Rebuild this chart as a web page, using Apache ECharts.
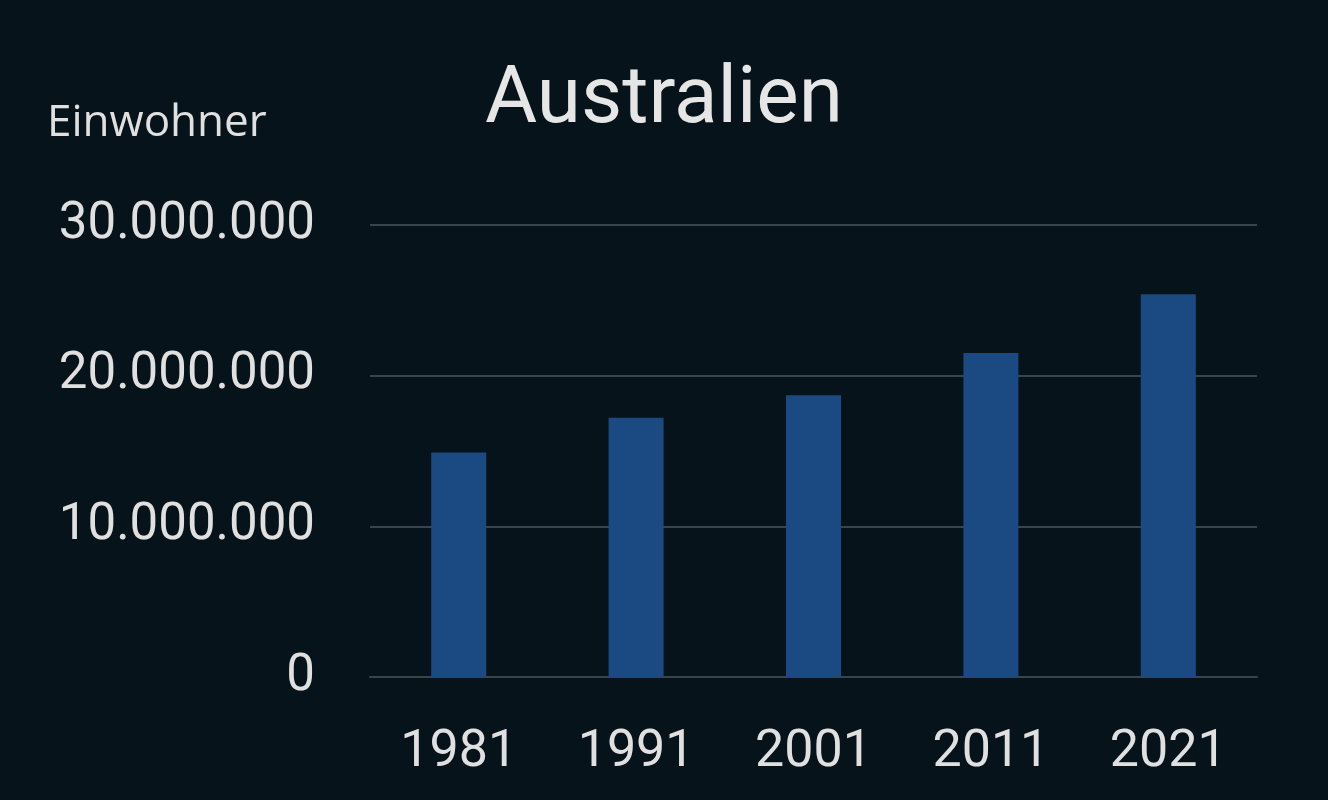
<!DOCTYPE html>
<html>
<head>
<meta charset="utf-8">
<script src="https://cdn.jsdelivr.net/npm/echarts@6/dist/echarts.min.js"></script>
<style>
  html, body { margin: 0; padding: 0; background: #06131a; }
  #main { width: 1328px; height: 800px; }
</style>
</head>
<body>
<div id="main"></div>
<script>
  // Bevölkerung Australien
  var jahre = ['1981', '1991', '2001', '2011', '2021'];
  var einwohner = [14900000, 17200000, 18700000, 21500000, 25400000];
  var yTicks = [0, 10000000, 20000000, 30000000];

  function fmt(v) {
    return String(v).replace(/\B(?=(\d{3})+(?!\d))/g, '.');
  }

  var myChart = echarts.init(document.getElementById('main'));

  var option = {
    backgroundColor: '#06131a',
    title: [{
      text: 'Australien',
      left: 'center',
      top: 57,
      textStyle: { color: '#e6e6e6', fontSize: 80, fontWeight: 'normal', fontFamily: 'Roboto' }
    }, {
      text: 'Einwohner',
      left: 42,
      top: 96,
      textStyle: { color: '#e0e0e0', fontSize: 44, fontWeight: 'normal', fontFamily: 'Open Sans' }
    }],
    grid: {
      left: 370,
      right: 71,
      top: 225,
      bottom: 123
    },
    xAxis: {
      type: 'category',
      data: jahre,
      axisLine: { lineStyle: { color: '#3a454b', width: 2 } },
      axisTick: { show: false },
      axisLabel: { color: '#e0e0e0', fontSize: 52, fontFamily: 'Roboto', margin: 50 }
    },
    yAxis: {
      type: 'value',
      min: yTicks[0],
      max: yTicks[yTicks.length - 1],
      interval: 10000000,
      axisLine: { show: false },
      axisTick: { show: false },
      splitLine: { lineStyle: { color: '#3a454b', width: 2 } },
      axisLabel: {
        color: '#e0e0e0', fontSize: 51, fontFamily: 'Roboto', margin: 55,
        verticalAlign: 'middle', lineHeight: 51,
        padding: [8, 0, 0, 0],
        formatter: function (v) { return fmt(v); }
      }
    },
    series: [{
      type: 'bar',
      data: einwohner,
      barWidth: 55,
      itemStyle: { color: '#1b4a82' }
    }]
  };

  myChart.setOption(option);
</script>
</body>
</html>
